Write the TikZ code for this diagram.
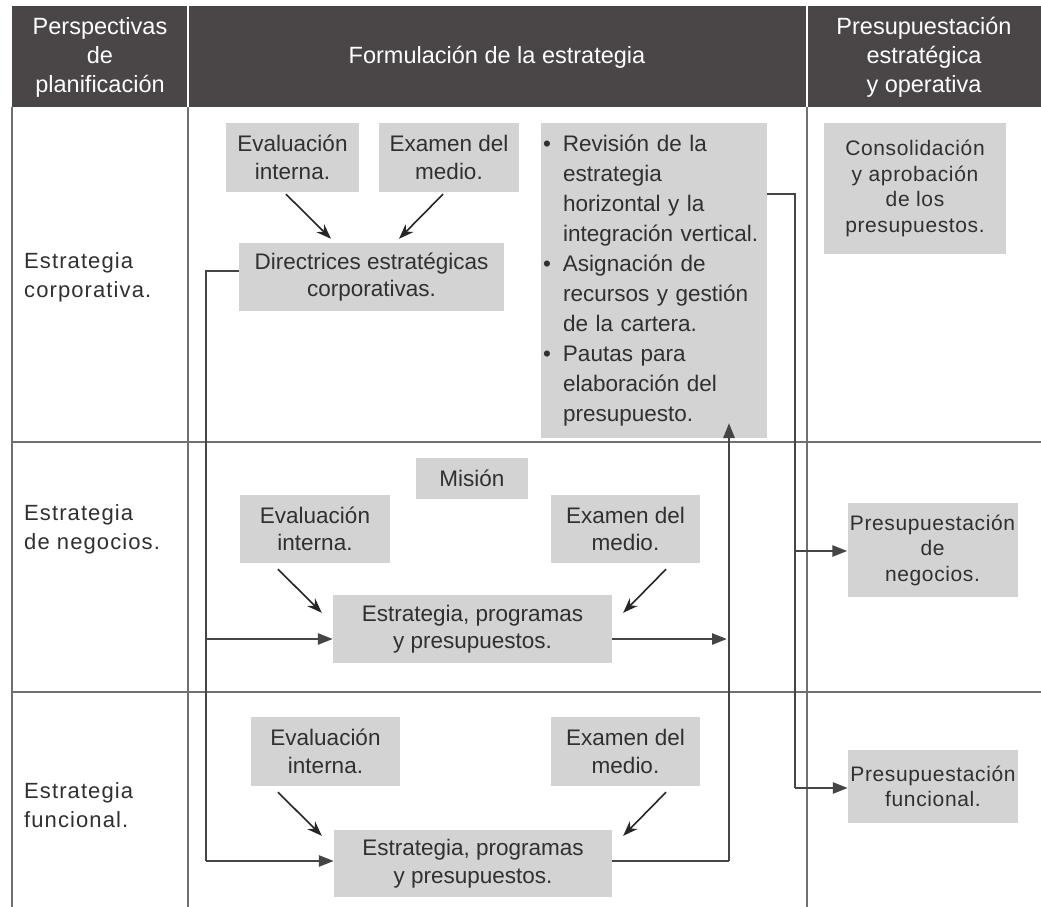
\documentclass[tikz,border=0pt]{standalone}
\usepackage{fontspec}
\setmainfont{Liberation Sans}
\newfontfamily\widefont[LetterSpace=5]{Liberation Sans}
\newfontfamily\rfont[LetterSpace=3]{Liberation Sans}
\usetikzlibrary{arrows.meta,calc}
\definecolor{hdr}{HTML}{4A4647}
\definecolor{boxgray}{HTML}{D4D3D3}
\definecolor{txt}{HTML}{303030}
\definecolor{gridc}{HTML}{707070}
\definecolor{conc}{HTML}{454545}
\tikzset{
  box/.style={fill=boxgray, inner sep=0pt, align=center, text=txt,
    font=\fontsize{22.5}{27.5}\selectfont},
  rbox/.style={fill=boxgray, inner sep=0pt, align=center, text=txt,
    font=\rfont\fontsize{21}{25.5}\selectfont},
  lbl/.style={inner sep=0pt, align=left, text=txt, anchor=west,
    font=\widefont\fontsize{22}{29}\selectfont},
  hdrtxt/.style={inner sep=0pt, align=center, text=white,
    font=\fontsize{23.5}{29}\selectfont},
  gridline/.style={draw=gridc, line width=1.8pt},
  conn/.style={draw=conc, line width=2.6pt},
  tipbig/.style={-{Triangle[length=15pt,width=11pt]}},
  diag/.style={draw=black!85, line width=1.6pt, -{Stealth[length=15pt,width=11pt]}}
}
\begin{document}
\begin{tikzpicture}[x=1pt,y=-1pt]
\useasboundingbox (0,0) rectangle (1041,907);
\fill[white] (0,0) rectangle (1041,907);
% header
\fill[hdr] (12,6) rectangle (1041,107);
\draw[white, line width=2pt] (188,6) -- (188,107);
\draw[white, line width=2pt] (807,6) -- (807,107);
\node[hdrtxt] (h1) at (100,57) {Perspectivas\\de\\planificación};
\node[hdrtxt] (h2) at (497,57) {Formulación de la estrategia};
\node[hdrtxt] (h3) at (924,57) {Presupuestación\\estratégica\\y operativa};
% grid
\draw[gridline] (12,107) -- (12,907);
\draw[gridline] (188,107) -- (188,907);
\draw[gridline] (807,107) -- (807,907);
\draw[gridline] (12,442) -- (1041,442);
\draw[gridline] (12,692) -- (1041,692);
% row labels
\node[lbl] (l1) at (24,277) {Estrategia\\corporativa.};
\node[lbl] (l2) at (24,529) {Estrategia\\de negocios.};
\node[lbl] (l3) at (24,805) {Estrategia\\funcional.};
% row 1
\node[box, minimum width=133pt, minimum height=69pt] (eval1) at (292.5,157.5) {Evaluación\\interna.};
\node[box, minimum width=140pt, minimum height=69pt] (exam1) at (449,157.5) {Examen del\\medio.};
\node[box, minimum width=265pt, minimum height=68pt] (dir) at (371.5,277) {Directrices estratégicas\\corporativas.};
\node[box, minimum width=226pt, minimum height=315pt, text width=226pt, align=left,
  font=\fontsize{22.5}{30}\selectfont] (bul) at (654,280.5)
 {\makebox[22pt][l]{\hspace{2pt}•}Revisión de la\\
  \hspace*{22pt}estrategia\\
  \hspace*{22pt}horizontal y la\\
  \hspace*{22pt}integración vertical.\\
  \makebox[22pt][l]{\hspace{2pt}•}Asignación de\\
  \hspace*{22pt}recursos y gestión\\
  \hspace*{22pt}de la cartera.\\
  \makebox[22pt][l]{\hspace{2pt}•}Pautas para\\
  \hspace*{22pt}elaboración del\\
  \hspace*{22pt}presupuesto.};
\node[rbox, minimum width=182pt, minimum height=131pt] (cons) at (915,188.5) {Consolidación\\y aprobación\\de los\\presupuestos.};
% row 2
\node[box, minimum width=112pt, minimum height=41pt] (mision) at (472,478.5) {Misión};
\node[box, minimum width=150pt, minimum height=68pt] (eval2) at (315,529) {Evaluación\\interna.};
\node[box, minimum width=149pt, minimum height=68pt] (exam2) at (625.5,529) {Examen del\\medio.};
\node[box, minimum width=279pt, minimum height=68pt] (est2) at (472.5,629) {Estrategia, programas\\y presupuestos.};
\node[rbox, minimum width=170pt, minimum height=94pt] (neg) at (932.5,550) {Presupuestación\\de\\negocios.};
% row 3
\node[box, minimum width=149pt, minimum height=69pt] (eval3) at (325.5,751.5) {Evaluación\\interna.};
\node[box, minimum width=149pt, minimum height=69pt] (exam3) at (625.5,751.5) {Examen del\\medio.};
\node[box, minimum width=278pt, minimum height=67pt] (est3) at (473,863.5) {Estrategia, programas\\y presupuestos.};
\node[rbox, minimum width=170pt, minimum height=73pt] (func) at (933,786.5) {Presupuestación\\funcional.};
% diagonal arrows
\draw[diag] ($(eval1.south)+(-6.5,2)$) -- ($(dir.north)+(-40.5,-4)$);
\draw[diag] ($(exam1.south)+(-6,2)$) -- ($(dir.north)+(27.5,-4)$);
\draw[diag] ($(eval2.south)+(-37,6)$) -- ($(est2.north west)+(-11,18)$);
\draw[diag] ($(exam2.south)+(40.5,6)$) -- ($(est2.north east)+(11,18)$);
\draw[diag] ($(eval3.south)+(-47.5,6)$) -- ($(est3.north west)+(-12,6)$);
\draw[diag] ($(exam3.south)+(40.5,6)$) -- ($(est3.north east)+(11,6)$);
% left feed line
\coordinate (p1) at (206,271);
\coordinate (p2) at (206,639);
\coordinate (p3) at (206,861);
\draw[conn] (p1 -| dir.west) -- (p1) -- (p3);
\draw[conn,tipbig] (p2) -- (p2 -| est2.west);
\draw[conn,tipbig] (p3) -- (p3 -| est3.west);
% right feed line
\coordinate (q1) at (795,194);
\coordinate (q2) at (795,551);
\coordinate (q3) at (795,788);
\draw[conn] (q1 -| bul.east) -- (q1) -- (q3);
\draw[conn,tipbig] (q2) -- (q2 -| neg.west);
\draw[conn,tipbig] (q3) -- (q3 -| func.west);
% upward line
\coordinate (u1) at (729,861);
\coordinate (u2) at (727,639);
\coordinate (u3) at (729,423);
\draw[conn] (u1 -| est3.east) -- (u1);
\draw[conn,tipbig] (u1) -- (u3);
\draw[conn,tipbig] (u2 -| est2.east) -- (u2);
\end{tikzpicture}
\end{document}
